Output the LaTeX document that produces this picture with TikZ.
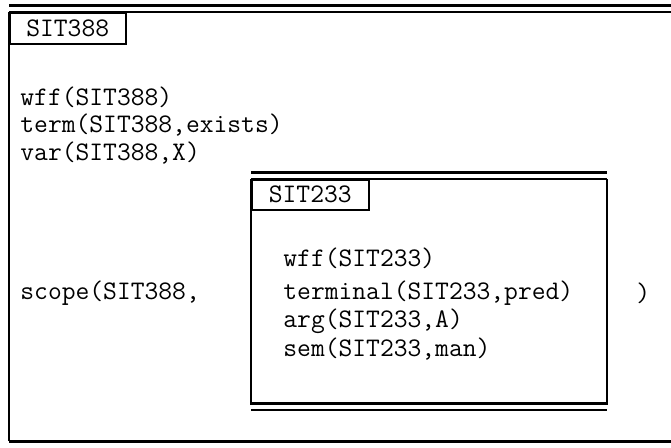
\documentclass[tikz,border=0pt]{standalone}
\usetikzlibrary{positioning}

\begin{document}
\begin{tikzpicture}[
    x=0.5pt, y=-0.5pt,
    every node/.style={font=\fontsize{13.4}{16}\selectfont\ttfamily},
    fact/.style={anchor=west, inner sep=0pt},
    tab/.style={draw, line width=0.75pt, anchor=north west, inner sep=0pt,
                minimum width=#1, minimum height=15.5pt},
    heavy/.style={line width=1.5pt},
    light/.style={line width=0.75pt},
]
\useasboundingbox (0,0) rectangle (671,447);

% =============================================
% OUTER SITUATION: SIT388
% =============================================
\draw[heavy] (9,5) -- (671,5);
\draw[light] (9,12) -- (671,12);
\draw[line width=1pt] (9,12) -- (9,441);
\draw[heavy] (8.5,441) -- (671,441);

\node[tab=58pt] (outertab) at (9,12) {SIT388};

\node[fact] (wffA) at (20,97) {wff(SIT388)};
\node[fact] (termA) at (20,125) {term(SIT388,exists)};
\node[fact] (varA) at (20,153) {var(SIT388,X)};
\node[fact] (scopeA) at (20,293) {scope(SIT388,};
\node[fact] (closeA) at (636,293) {)};

% =============================================
% INNER SITUATION: SIT233
% =============================================
\draw[heavy] (251,172) -- (607,172);
\draw[light] (251,179) -- (607,179);
\draw[line width=1.2pt] (251,179) -- (251,403) -- (607,403) -- (607,179);
\draw[heavy] (250.4,403) -- (607.6,403);
\draw[light] (251,410) -- (607,410);

\node[tab=58.5pt, minimum height=15pt] (innertab) at (251,179) {SIT233};

\node[fact] (wffB) at (283,258) {wff(SIT233)};
\node[fact] (termB) at (283,293) {terminal(SIT233,pred)};
\node[fact] (argB) at (283,321) {arg(SIT233,A)};
\node[fact] (semB) at (283,349) {sem(SIT233,man)};

\end{tikzpicture}
\end{document}
